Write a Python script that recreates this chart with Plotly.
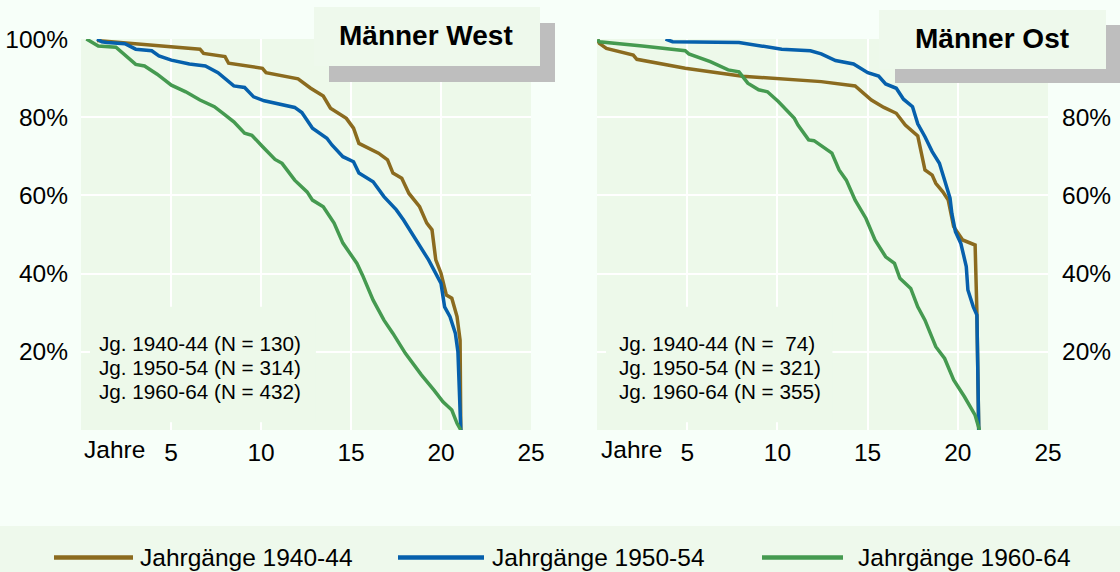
import plotly.graph_objects as go

# ---------------- data ----------------
# Männer West
west_x_1940 = [0.89, 6.61, 6.81, 8.0, 8.2, 10.08, 10.28, 12.06, 12.76, 13.46, 13.86, 14.74, 15.14, 15.44,
               16.53, 17.03, 17.33, 17.82, 18.22, 18.81, 19.21, 19.5, 19.71, 20.0, 20.3, 20.6, 20.89, 21.06, 21.1]
west_y_1940 = [0.996, 0.974, 0.963, 0.955, 0.938, 0.925, 0.914, 0.898, 0.874, 0.854, 0.823, 0.797, 0.772, 0.733,
               0.708, 0.691, 0.657, 0.644, 0.605, 0.571, 0.529, 0.512, 0.435, 0.401, 0.345, 0.337, 0.29, 0.23, 0.0]

west_x_1950 = [0.89, 1.16, 1.44, 2.44, 3.04, 3.93, 4.33, 5.02, 6.02, 6.91, 7.61, 8.49, 9.09, 9.59, 10.18, 11.17,
               11.87, 12.27, 12.86, 13.66, 13.94, 14.55, 15.14, 15.44, 16.23, 16.83, 17.52, 17.92, 18.61, 19.31,
               20.0, 20.2, 20.5, 20.8, 20.94, 21.1]
west_y_1950 = [1.0, 0.993, 0.991, 0.988, 0.974, 0.970, 0.957, 0.946, 0.936, 0.931, 0.914, 0.880, 0.876, 0.852,
               0.842, 0.831, 0.825, 0.812, 0.772, 0.746, 0.729, 0.699, 0.686, 0.657, 0.635, 0.597, 0.563, 0.537,
               0.486, 0.435, 0.375, 0.315, 0.290, 0.247, 0.200, 0.0]

west_x_1960 = [0.3, 0.56, 0.96, 1.94, 2.34, 3.04, 3.53, 4.23, 5.02, 5.82, 6.61, 7.41, 8.0, 8.49, 9.09, 9.49,
               10.08, 10.78, 11.17, 11.87, 12.56, 12.86, 13.46, 14.06, 14.55, 15.33, 15.64, 16.23, 16.83, 17.33,
               18.02, 18.91, 19.61, 20.11, 20.6, 20.89, 21.1]
west_y_1960 = [1.0, 0.993, 0.982, 0.979, 0.963, 0.935, 0.931, 0.910, 0.882, 0.865, 0.844, 0.827, 0.806, 0.788,
               0.759, 0.754, 0.725, 0.692, 0.682, 0.639, 0.609, 0.588, 0.571, 0.529, 0.478, 0.426, 0.396, 0.332,
               0.281, 0.247, 0.196, 0.141, 0.102, 0.072, 0.051, 0.017, 0.0]

# Männer Ost
ost_x_1940 = [0.03, 0.13, 0.52, 2.01, 2.21, 4.89, 8.06, 9.06, 12.43, 14.31, 15.21, 15.9, 16.59, 17.09, 17.78,
              18.18, 18.58, 18.78, 19.17, 19.47, 19.77, 20.27, 20.96, 21.06, 21.16]
ost_y_1940 = [0.999, 0.989, 0.976, 0.959, 0.948, 0.925, 0.905, 0.902, 0.891, 0.880, 0.844, 0.825, 0.810, 0.780,
              0.752, 0.665, 0.652, 0.631, 0.609, 0.588, 0.520, 0.486, 0.473, 0.298, 0.0]

ost_x_1950 = [3.8, 4.19, 7.87, 8.66, 10.24, 11.83, 12.43, 13.22, 14.22, 15.01, 15.61, 16.0, 16.59, 16.99, 17.49,
              17.78, 18.18, 18.58, 18.98, 19.27, 19.57, 19.67, 19.87, 20.17, 20.47, 20.56, 20.86, 21.06, 21.16]
ost_y_1950 = [1.0, 0.993, 0.991, 0.986, 0.974, 0.970, 0.962, 0.945, 0.936, 0.914, 0.905, 0.885, 0.874, 0.846,
              0.827, 0.783, 0.750, 0.712, 0.682, 0.639, 0.593, 0.554, 0.507, 0.477, 0.418, 0.358, 0.315, 0.294, 0.0]

ost_x_1960 = [0.03, 0.13, 2.51, 3.89, 4.89, 5.09, 6.28, 7.27, 7.87, 8.36, 8.96, 9.45, 10.05, 10.94, 11.14, 11.73,
              12.03, 13.02, 13.42, 13.82, 14.31, 14.91, 15.41, 16.0, 16.49, 16.79, 17.39, 17.78, 18.18, 18.78,
              19.27, 19.77, 20.37, 20.96, 21.2]
ost_y_1960 = [0.999, 0.993, 0.982, 0.974, 0.970, 0.962, 0.942, 0.921, 0.916, 0.887, 0.870, 0.865, 0.840, 0.797,
              0.780, 0.742, 0.740, 0.708, 0.665, 0.639, 0.588, 0.541, 0.486, 0.443, 0.426, 0.388, 0.362, 0.315,
              0.281, 0.213, 0.183, 0.128, 0.085, 0.038, 0.0]

series_names = ["Jahrgänge 1940-44", "Jahrgänge 1950-54", "Jahrgänge 1960-64"]
west_labels = ["Jg. 1940-44 (N = 130)", "Jg. 1950-54 (N = 314)", "Jg. 1960-64 (N = 432)"]
ost_labels = ["Jg. 1940-44 (N =\u00a0\u00a074)", "Jg. 1950-54 (N = 321)", "Jg. 1960-64 (N = 355)"]
panel_titles = ["Männer West", "Männer Ost"]
x_ticks = [5, 10, 15, 20, 25]
y_ticks_left = [0.2, 0.4, 0.6, 0.8, 1.0]
y_ticks_right = [0.2, 0.4, 0.6, 0.8]

# ---------------- style ----------------
W, H = 1120, 572
COLORS = ["#8B6B1F", "#0660AC", "#459A50"]
PAGE_BG = "#F7FFF9"
PLOT_BG = "#EDF9EA"
BOX_BG = "#EEF9EC"
SHADOW = "#BEBEBE"
FONT = "Liberation Sans, Arial, sans-serif"
TICK_SIZE = 24.5


def fx(p):
    return p / W


def fy(p):
    return 1 - p / H


fig = go.Figure()

west = [(west_x_1940, west_y_1940), (west_x_1950, west_y_1950), (west_x_1960, west_y_1960)]
ost = [(ost_x_1940, ost_y_1940), (ost_x_1950, ost_y_1950), (ost_x_1960, ost_y_1960)]

for i, (xs, ys) in enumerate(west):
    fig.add_trace(go.Scatter(x=xs, y=ys, mode="lines", name=series_names[i],
                             line=dict(color=COLORS[i], width=3.5), xaxis="x", yaxis="y",
                             showlegend=False, hoverinfo="skip"))
for i, (xs, ys) in enumerate(ost):
    fig.add_trace(go.Scatter(x=xs, y=ys, mode="lines", name=series_names[i],
                             line=dict(color=COLORS[i], width=3.5), xaxis="x2", yaxis="y2",
                             showlegend=False, hoverinfo="skip"))

ydom = [fy(430), fy(39)]
axis_common = dict(showgrid=True, gridcolor="white", gridwidth=2, zeroline=False, automargin=False,
                   showline=False, ticks="", tickfont=dict(size=TICK_SIZE, color="black", family=FONT))

fig.update_layout(
    template="none",
    width=W, height=H,
    autosize=False,
    margin=dict(l=0, r=0, t=0, b=0, pad=0, autoexpand=False),
    paper_bgcolor=PAGE_BG,
    plot_bgcolor=PLOT_BG,
    font=dict(family=FONT, color="black"),
    showlegend=False,
    xaxis=dict(domain=[fx(81), fx(531)], range=[0, 25], tickvals=x_ticks, anchor="y",
               ticklabelstandoff=5, **axis_common),
    yaxis=dict(domain=ydom, range=[0, 1], tickvals=y_ticks_left,
               ticktext=[f"{int(round(v * 100))}%" for v in y_ticks_left], anchor="x",
               ticklabelstandoff=12, **axis_common),
    xaxis2=dict(domain=[fx(597), fx(1048)], range=[0, 25], tickvals=x_ticks, anchor="y2",
                ticklabelstandoff=5, **axis_common),
    yaxis2=dict(domain=ydom, range=[0, 1], tickvals=y_ticks_right, side="right",
                ticktext=[f"{int(round(v * 100))}%" for v in y_ticks_right], anchor="x2",
                ticklabelstandoff=13, **axis_common),
)

shapes = []
annotations = []

# legend band at bottom
shapes.append(dict(type="rect", xref="paper", yref="paper", x0=0, x1=1, y0=0, y1=fy(526),
                   fillcolor=BOX_BG, line=dict(width=0), layer="below"))

# boxes behind "Jg." text (cover gridlines)
for xa, ya in [("x", "y"), ("x2", "y2")]:
    shapes.append(dict(type="rect", xref=xa, yref=ya, x0=0.5, x1=13.05, y0=0.02, y1=0.315,
                       fillcolor=PLOT_BG, line=dict(width=0), layer="between"))

# title boxes with shadows
title_boxes = [((314, 7, 540, 66), (329, 23, 555, 82), 425.5, 36),
               ((879, 10, 1106, 69), (895, 25, 1120, 83), 991.5, 38)]
for (box, shadow, tx, ty), title in zip(title_boxes, panel_titles):
    shapes.append(dict(type="rect", xref="paper", yref="paper", x0=fx(shadow[0]), x1=fx(shadow[2]),
                       y0=fy(shadow[3]), y1=fy(shadow[1]), fillcolor=SHADOW, line=dict(width=0),
                       layer="above"))
    shapes.append(dict(type="rect", xref="paper", yref="paper", x0=fx(box[0]), x1=fx(box[2]),
                       y0=fy(box[3]), y1=fy(box[1]), fillcolor=BOX_BG, line=dict(width=0),
                       layer="above"))
    annotations.append(dict(xref="paper", yref="paper", x=fx(tx), y=fy(ty), text=f"<b>{title}</b>",
                            showarrow=False, xanchor="center", yanchor="middle",
                            font=dict(size=28, family=FONT, color="black")))

# Jg. labels
for labels, x0 in [(west_labels, 96.5), (ost_labels, 616.5)]:
    for j, t in enumerate(labels):
        annotations.append(dict(xref="paper", yref="paper", x=fx(x0), y=fy(343.3 + 24.2 * j), text=t,
                                showarrow=False, xanchor="left", yanchor="middle",
                                font=dict(size=20.7, family=FONT, color="black")))

# "Jahre" labels
for xc in [114, 631.5]:
    annotations.append(dict(xref="paper", yref="paper", x=fx(xc), y=fy(449.5), text="Jahre",
                            showarrow=False, xanchor="center", yanchor="middle",
                            font=dict(size=TICK_SIZE, family=FONT, color="black")))

# manual legend
legend_pos = [(54, 133, 138), (398, 484, 490), (762, 843, 856)]
for (l0, l1, tx), name, col in zip(legend_pos, series_names, COLORS):
    shapes.append(dict(type="line", xref="paper", yref="paper", x0=fx(l0), x1=fx(l1),
                       y0=fy(557.5), y1=fy(557.5), line=dict(color=col, width=4.5)))
    annotations.append(dict(xref="paper", yref="paper", x=fx(tx), y=fy(557), text=name,
                            showarrow=False, xanchor="left", yanchor="middle",
                            font=dict(size=24.5, family=FONT, color="black")))

fig.update_layout(shapes=shapes, annotations=annotations)

fig.write_html(
    "out.html",
    config={"displayModeBar": False, "responsive": False},
    post_script="document.body.style.margin='0';document.body.style.overflow='hidden';",
)
